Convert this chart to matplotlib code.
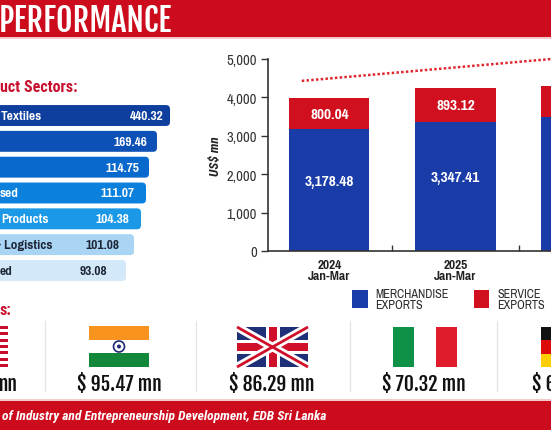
import numpy as np
import matplotlib
matplotlib.use("Agg")
import matplotlib.pyplot as plt
from matplotlib.patches import Rectangle, FancyBboxPatch, Circle

# ---- data -------------------------------------------------------------
sector_labels = ["Textiles", "", "", "sed", "Products", "& Logistics", "ed"]
sector_values = [440.32, 169.46, 114.75, 111.07, 104.38, 101.08, 93.08]

periods = ["2024\nJan-Mar", "2025\nJan-Mar", "2026\nJan-Mar"]
merchandise = [3178.48, 3347.41, 3490]
service = [800.04, 893.12, 810]
show_labels = [True, True, False]

trend_x = [-0.22, 1.76]
trend_y = [4430, 5000]

market_values = ["mn", "$ 95.47 mn", "$ 86.29 mn", "$ 70.32 mn", "$ 6"]

# ---- style / layout ---------------------------------------------------
NARROW = ["Pragati Narrow", "DejaVu Sans"]
HEAVY = ["Fjalla One", "DejaVu Sans"]
COND = ["Roboto Condensed", "DejaVu Sans"]
plt.rcParams["font.family"] = NARROW

RED = "#cc0c1c"
BLUE = "#1a3ca8"
BAR_RED = "#d0101e"
sector_colors = ["#0f3f9e", "#0d50b6", "#0a69cc", "#0b80dc", "#1b98e6", "#a9d4f4", "#d3e8f8"]
sector_text = ["white"] * 5 + ["#1c2535"] * 2
bar_len = [170, 157, 149, 146, 141, 134, 126]
value_end = [164, 147, 139, 135, 129, 120, 107]
label_x = [1, 0, 0, 0, 1, -7, 0]

W, H = 551, 431
fig = plt.figure(figsize=(W / 100, H / 100), dpi=100)

# full-figure overlay in pixel units
bg = fig.add_axes([0, 0, 1, 1])
bg.set_xlim(0, W)
bg.set_ylim(H, 0)
bg.axis("off")

# top banner
bg.add_patch(Rectangle((0, 0), W, 38, color=RED, lw=0))
bg.add_patch(Rectangle((0, 38), W, 2, color="#f3c9cc", lw=0))
bg.text(172, 21, "PERFORMANCE", color="white", fontsize=23, family=HEAVY,
        ha="right", va="center")

# section headings
bg.text(0, 88, "uct Sectors:", color="#c8102e", fontsize=11.5, fontweight="bold",
        family=COND, ha="left", va="center")
bg.text(0, 311, "s:", color="#c8102e", fontsize=11.5, fontweight="bold",
        family=COND, ha="left", va="center")

# bottom banner
bg.add_patch(Rectangle((0, 400), W, 2, color="#f3c9cc", lw=0))
bg.add_patch(Rectangle((0, 402), W, 29, color=RED, lw=0))
bg.text(2, 417, "of Industry and Entrepreneurship Development, EDB Sri Lanka",
        color="white", fontsize=9.7, fontweight="bold", style="italic", family=COND,
        ha="left", va="center")

# ---- sector bars --------------------------------------------------------
axh = fig.add_axes([0, (H - 290) / H, 180 / W, 190 / H])
axh.set_xlim(0, 180)
step = 25.83
axh.set_ylim(6.717, -0.639)
axh.axis("off")
axh.patch.set_alpha(0)
for i, v in enumerate(sector_values):
    axh.add_patch(FancyBboxPatch((-12, i - 0.405), bar_len[i] + 12, 0.81,
                                 boxstyle="round,pad=0,rounding_size=4",
                                 mutation_aspect=1 / step,
                                 fc=sector_colors[i], ec="none"))
    axh.text(value_end[i], i, f"{v:.2f}", color=sector_text[i], fontsize=10.5,
             fontweight="bold", ha="right", va="center")
    if sector_labels[i]:
        axh.text(label_x[i], i, sector_labels[i], color=sector_text[i],
                 fontsize=10.5, fontweight="bold", ha="left", va="center")

# ---- stacked export chart ---------------------------------------------
ax = fig.add_axes([268 / W, (H - 252) / H, 438 / W, 192 / H])
ax.patch.set_alpha(0)
x = np.arange(len(periods))
ax.bar(x, merchandise, width=0.635, color=BLUE, lw=0)
ax.bar(x, service, bottom=merchandise, width=0.635, color=BAR_RED, lw=0)
for i in x:
    if not show_labels[i]:
        continue
    ax.text(i, merchandise[i] * 0.575, f"{merchandise[i]:,.2f}", color="white",
            fontsize=12, fontweight="bold", ha="center", va="center")
    ax.text(i, merchandise[i] + service[i] / 2, f"{service[i]:,.2f}", color="white",
            fontsize=12, fontweight="bold", ha="center", va="center")

ax.plot(trend_x, trend_y, color="#e0262e", lw=1.8, ls=(0, (1, 0.9)), clip_on=False)

ax.set_xlim(-0.488, 2.988)
ax.set_ylim(0, 5000)
ax.set_yticks(range(0, 5001, 1000))
ax.set_yticklabels([f"{t:,}" for t in range(0, 5001, 1000)])
ax.set_xticks(x)
ax.set_xticklabels(periods, fontweight="bold", linespacing=1.0)
ax.set_xticks(x[:-1] + 0.5, minor=True)
ax.tick_params(axis="x", which="major", length=0, pad=6, labelsize=10.5, colors="#222222")
ax.tick_params(axis="x", which="minor", direction="in", length=4, width=1, color="#333333")
ax.tick_params(axis="y", direction="out", length=5, width=1, pad=3, labelsize=11.5,
               colors="#333333")
for s in ["top", "right"]:
    ax.spines[s].set_visible(False)
for s in ["left", "bottom"]:
    ax.spines[s].set_linewidth(1.2)
    ax.spines[s].set_color("#333333")
ax.set_ylabel("US$ mn", fontsize=9.5, fontweight="bold", style="italic", family=COND,
              color="#222222")
ax.yaxis.set_label_coords((222 - 268) / 438, 0.5)

# legend
bg.add_patch(Rectangle((352, 291), 16, 18, color=BLUE, lw=0))
bg.text(375, 300, "MERCHANDISE\nEXPORTS", fontsize=9.5, color="#2a2a2a",
        ha="left", va="center", linespacing=0.95)
bg.add_patch(Rectangle((474, 291), 15, 18, color=BAR_RED, lw=0))
bg.text(497, 300, "SERVICE\nEXPORTS", fontsize=9.5, color="#2a2a2a",
        ha="left", va="center", linespacing=0.95)

# ---- markets row --------------------------------------------------------
for sx in [45, 196, 350, 497]:
    bg.plot([sx, sx], [322, 392], color="#e6e6e6", lw=1)

# USA (partial)
for k in range(13):
    bg.add_patch(Rectangle((-60, 327 + k * 41 / 13), 68, 41 / 13,
                           color="#c8102e" if k % 2 == 0 else "white", lw=0))
# India
fx, fy, fw, fh = 89, 327, 60, 41
bg.add_patch(Rectangle((fx, fy), fw, fh / 3, color="#f7931e", lw=0))
bg.add_patch(Rectangle((fx, fy + fh / 3), fw, fh / 3, color="white", lw=0))
bg.add_patch(Rectangle((fx, fy + 2 * fh / 3), fw, fh / 3, color="#14883a", lw=0))
bg.add_patch(Circle((fx + fw / 2, fy + fh / 2), 5.5, fc="none", ec="#1c2a7a", lw=1.2))
bg.add_patch(Circle((fx + fw / 2, fy + fh / 2), 2, fc="#1c2a7a", ec="none"))
# UK
ux, uy, uw, uh = 237, 328, 71, 40
bg.add_patch(Rectangle((ux, uy), uw, uh, color="#1f2f78", lw=0))
bg.plot([ux, ux + uw], [uy, uy + uh], color="white", lw=6, solid_capstyle="butt")
bg.plot([ux, ux + uw], [uy + uh, uy], color="white", lw=6, solid_capstyle="butt")
bg.plot([ux, ux + uw], [uy, uy + uh], color="#d0102a", lw=2, solid_capstyle="butt")
bg.plot([ux, ux + uw], [uy + uh, uy], color="#d0102a", lw=2, solid_capstyle="butt")
bg.add_patch(Rectangle((ux + uw / 2 - 7, uy), 14, uh, color="white", lw=0))
bg.add_patch(Rectangle((ux, uy + uh / 2 - 7), uw, 14, color="white", lw=0))
bg.add_patch(Rectangle((ux + uw / 2 - 4, uy), 8, uh, color="#d0102a", lw=0))
bg.add_patch(Rectangle((ux, uy + uh / 2 - 4), uw, 8, color="#d0102a", lw=0))
# Italy
ix, iy, iw, ih = 393, 328, 64, 40
for k, c in enumerate(["#0f9248", "white", "#e01c2c"]):
    bg.add_patch(Rectangle((ix + k * iw / 3, iy), iw / 3, ih, color=c, lw=0))
# Germany (partial)
gx, gy, gw, gh = 541, 328, 68, 40
for k, c in enumerate(["#111111", "#dd0a0a", "#ffce00"]):
    bg.add_patch(Rectangle((gx, gy + k * gh / 3), gw, gh / 3, color=c, lw=0))

# market values
val_x = [18, 119, 272, 424, 532]
val_ha = ["right", "center", "center", "center", "left"]
for t, vx, ha in zip(market_values, val_x, val_ha):
    bg.text(vx, 385, t, fontsize=14, family=HEAVY, color="#111111",
            ha=ha, va="center")

fig.savefig("out.png", dpi=100)
